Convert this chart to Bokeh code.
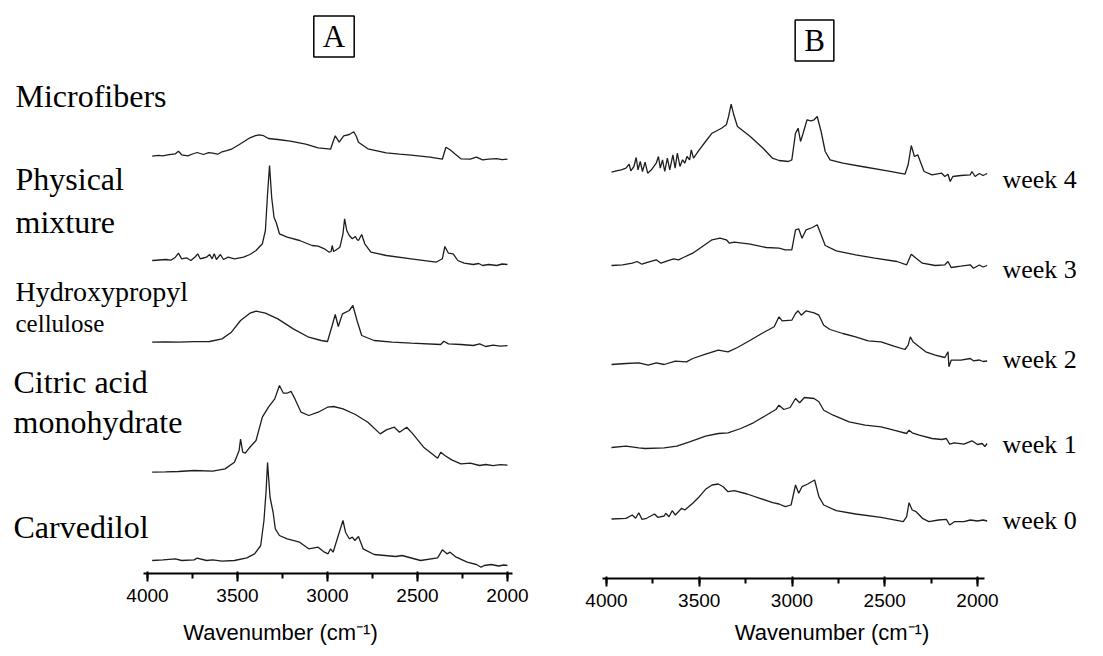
from bokeh.plotting import figure
from bokeh.models import Range1d, Label, SingleIntervalTicker
from bokeh.layouts import row
from bokeh.embed import file_html
from bokeh.resources import INLINE

# ---------------- data (wavenumber cm-1, relative intensity) ----------------
microfibers = [(3974, 0), (3940, 0.8), (3914, 0.3), (3880, 1.5), (3845, 2.4), (3828, 5), (3810, 1.4),
               (3776, 0.4), (3750, 2.2), (3724, 3.7), (3690, 1.7), (3660, 3.5), (3638, 3), (3610, 2),
               (3586, 4.4), (3560, 5.5), (3534, 7), (3483, 12.4), (3431, 18.4), (3400, 20.5), (3379, 21.4),
               (3355, 20.5), (3328, 17.7), (3276, 16.7), (3207, 15), (3121, 12), (3052, 8.4), (2983, 7),
               (2970, 14), (2957, 20.4), (2935, 14), (2910, 20.4), (2879, 21.7), (2854, 24.4), (2840, 20),
               (2828, 14), (2776, 7.4), (2673, 3.4), (2600, 2), (2535, 1), (2431, -1), (2362, -3), (2342, 9),
               (2319, 6.4), (2293, 2.4), (2259, -2.6), (2207, -3), (2173, -1), (2138, -3.7), (2104, -3),
               (2060, -2.5), (2030, -3.5), (2000, -3)]
physical_mixture = [(3974, 0), (3935, 0.5), (3897, 1), (3870, 0.3), (3845, 3.3), (3828, 7.3), (3810, 1.7),
                    (3784, 2.7), (3759, 0), (3733, 4), (3721, 6.7), (3707, 1.7), (3690, 2.5), (3672, 3.3),
                    (3655, 6), (3641, 1.7), (3629, 6.7), (3617, 1), (3595, 6), (3578, 1), (3552, 3.3),
                    (3517, 1.7), (3466, 3.3), (3431, 6), (3397, 10), (3362, 16.7), (3345, 30), (3333, 66.7),
                    (3322, 95), (3310, 63), (3297, 43), (3285, 38), (3267, 26.7), (3224, 23.3), (3155, 20),
                    (3086, 15), (3052, 14.3), (3017, 11.7), (2991, 8.3), (2980, 9), (2974, 15), (2966, 9),
                    (2957, 10), (2931, 13.3), (2914, 26.7), (2905, 41.7), (2893, 30), (2879, 25), (2862, 21.7),
                    (2845, 24), (2836, 21), (2828, 20), (2810, 26), (2793, 16.7), (2759, 8.3), (2673, 5),
                    (2535, 1.7), (2397, -1.7), (2362, 1.7), (2348, 14), (2328, 7.3), (2302, 6.7), (2276, 0),
                    (2241, -2.7), (2190, -4), (2160, -3), (2138, -5), (2104, -4), (2060, -5), (2030, -3.5),
                    (2000, -4)]
hpc = [(3974, 0), (3900, 0.3), (3828, 0), (3740, 0.5), (3655, 0.7), (3586, 3.3), (3534, 10), (3483, 21.7),
       (3431, 29), (3397, 31), (3345, 29), (3276, 23.3), (3190, 13.3), (3104, 5), (3035, 1.7), (3000, 0.7),
       (2974, 16.7), (2957, 27.7), (2940, 15.7), (2917, 28.3), (2879, 31.7), (2859, 36.7), (2836, 21.7),
       (2810, 6.7), (2741, 1.7), (2640, 0), (2535, -1), (2371, -2.3), (2354, 1), (2328, -1.7), (2259, -2.3),
       (2190, -3.3), (2155, -1.7), (2121, -4.3), (2080, -3), (2040, -4), (2000, -3.5)]
citric_acid = [(3974, 0), (3900, 0.3), (3828, 0.7), (3741, 1.7), (3638, 1), (3569, 3.3), (3517, 10),
               (3491, 21.7), (3483, 33), (3471, 20), (3457, 19), (3431, 25), (3397, 31.7), (3362, 55),
               (3328, 65), (3293, 73.3), (3267, 86.7), (3245, 79), (3224, 79), (3203, 81), (3181, 73.3),
               (3147, 60), (3104, 56.7), (3052, 60), (3000, 65), (2966, 65.7), (2914, 63.3), (2845, 57.7),
               (2776, 50), (2707, 38.3), (2673, 42.3), (2629, 45), (2600, 40), (2560, 45), (2526, 38.3),
               (2466, 25), (2388, 14), (2371, 20), (2348, 16.7), (2310, 12.3), (2259, 8.3), (2207, 9),
               (2155, 6.7), (2121, 7.7), (2080, 6.5), (2040, 7.5), (2000, 7)]
carvedilol = [(3974, 0), (3914, 0.7), (3845, 1.7), (3810, 0), (3741, 0.7), (3724, 2.3), (3672, 0),
              (3638, 0.7), (3586, -0.7), (3517, 0), (3448, 2.7), (3405, 6.7), (3371, 15), (3353, 40),
              (3341, 70), (3333, 98), (3326, 80), (3319, 63), (3302, 48), (3290, 31.7), (3267, 25),
              (3224, 21.7), (3155, 18.3), (3104, 11.7), (3052, 13.3), (3017, 8.3), (2997, 6.7), (2983, 11.7),
              (2969, 8.3), (2940, 25), (2914, 40), (2900, 28.3), (2879, 21.7), (2862, 23.3), (2848, 20),
              (2828, 24), (2802, 11.7), (2741, 6), (2621, 4), (2586, 5), (2483, 0), (2388, 2.7), (2362, 10.7),
              (2336, 6.7), (2319, 8.3), (2285, 3.3), (2224, -1.7), (2173, -4), (2147, -6.7), (2129, -5),
              (2090, -4), (2050, -5.5), (2020, -4.5), (2000, -5)]

week4 = [(3973, -0.7), (3947, 0.7), (3921, 1.7), (3895, 3.3), (3878, 7.3), (3869, 0.7), (3852, 5), (3840, 14),
         (3830, 1.7), (3818, 10), (3806, 0), (3792, 9.3), (3778, -1.7), (3758, 1.7), (3732, 8.3), (3720, 15),
         (3710, 3.3), (3698, 11.7), (3686, 0), (3672, 13.3), (3659, 1.7), (3642, 16.7), (3630, 3.3),
         (3618, 18.3), (3604, 5), (3590, 11.7), (3578, 8.3), (3566, 15), (3552, 11.7), (3543, 21.7),
         (3531, 13.3), (3500, 21.7), (3466, 30), (3431, 38.3), (3380, 43.3), (3354, 46.7), (3342, 55),
         (3328, 67.3), (3314, 56.7), (3294, 45), (3225, 35), (3156, 23.3), (3105, 13.3), (3070, 11),
         (3019, 10), (3001, 11.7), (2981, 38.3), (2967, 43.3), (2954, 30), (2940, 38.3), (2919, 51.7),
         (2898, 50.7), (2881, 51.7), (2864, 55), (2843, 40), (2821, 20), (2795, 11.7), (2726, 8.3),
         (2623, 5), (2486, 0.7), (2391, -2.7), (2374, 6.7), (2357, 26), (2340, 15), (2322, 16.7), (2305, 8.3),
         (2288, 0), (2245, -3.3), (2193, -1.7), (2176, -5), (2159, -2.7), (2147, -10), (2133, -5), (2090, -4),
         (2039, -3.3), (2030, 0), (2013, -5), (1990, -2), (1970, -4), (1948, -2)]
week3 = [(3973, 0), (3913, 0.7), (3861, 2.3), (3835, 4), (3809, 1.3), (3775, 3.3), (3732, 5.7), (3706, 2.3),
         (3672, 4.7), (3638, 6.7), (3612, 5.7), (3586, 8), (3535, 12.3), (3483, 19), (3431, 25.7),
         (3388, 27.3), (3354, 25.7), (3337, 22.3), (3311, 23.3), (3225, 21.3), (3139, 18), (3070, 17.3),
         (3036, 15.7), (3001, 15.7), (2981, 35.7), (2964, 36.7), (2946, 27.3), (2924, 35.7), (2890, 38),
         (2864, 40.7), (2843, 30.7), (2821, 20), (2761, 14.7), (2657, 10.7), (2554, 7.3), (2434, 4),
         (2382, 0.7), (2357, 11.3), (2331, 7.3), (2297, 2.3), (2228, 0), (2176, 0.7), (2159, 4), (2142, -2),
         (2090, -0.7), (2039, 0.7), (2022, -2.7), (1990, 0.5), (1970, -1.5), (1948, 0)]
week2 = [(3973, 0), (3895, 1), (3826, 1.7), (3775, -0.7), (3732, 1.7), (3689, 0), (3629, 3.3), (3569, 2.7),
         (3535, 6), (3466, 10.3), (3397, 14.3), (3345, 12.7), (3294, 17), (3225, 24.3), (3156, 31.7),
         (3096, 37.7), (3070, 47.7), (3053, 43.7), (3001, 44.3), (2981, 51), (2967, 53.7), (2950, 49.3),
         (2924, 53.7), (2881, 51.7), (2855, 49.3), (2829, 39.3), (2795, 35), (2726, 31), (2657, 27.7),
         (2589, 23.7), (2520, 22.7), (2451, 18.3), (2391, 15), (2374, 19.3), (2362, 27.7), (2348, 22.7),
         (2314, 17.7), (2279, 12.7), (2228, 9.3), (2176, 7), (2159, 12.7), (2154, -2.3), (2142, 4.3),
         (2090, 4.3), (2039, 6), (2022, 3.7), (1990, 4.5), (1970, 3), (1948, 3.5)]
week1 = [(3973, 0), (3895, 1.3), (3826, -0.3), (3792, -1), (3689, -0.3), (3621, 1.3), (3552, 5.7),
         (3466, 11.3), (3397, 14), (3345, 14.7), (3276, 19), (3208, 24.7), (3139, 32.3), (3087, 38),
         (3070, 42.3), (3044, 38), (3010, 40), (2981, 49), (2959, 44.7), (2933, 50), (2881, 49), (2855, 45.7),
         (2829, 37.3), (2778, 32.3), (2692, 25.7), (2606, 22.3), (2520, 20.7), (2451, 17.3), (2382, 14),
         (2369, 17.3), (2352, 14.7), (2314, 12.3), (2245, 9), (2193, 8), (2168, 9), (2150, 3.3), (2125, 4.7),
         (2073, 3.3), (2030, 6.7), (2000, 3), (1975, 4), (1960, 1), (1948, 4)]
week0 = [(3973, 0), (3895, 0.7), (3861, 4), (3843, 0.7), (3826, 6.3), (3809, -0.3), (3784, 0.7), (3741, 5),
         (3724, 1.7), (3689, 3), (3681, 5.7), (3663, 2.3), (3646, 8.3), (3629, 4), (3595, 10.7), (3578, 9),
         (3535, 15.7), (3500, 22.3), (3466, 29.7), (3431, 34), (3397, 35), (3371, 32.3), (3345, 27.3),
         (3311, 28.3), (3242, 25), (3173, 20.7), (3104, 16.3), (3070, 15), (3036, 12.3), (3005, 14),
         (2981, 34), (2964, 25.7), (2946, 32.3), (2915, 35), (2878, 39), (2855, 22.3), (2829, 14),
         (2761, 8.3), (2657, 5), (2520, 1.7), (2400, -2.7), (2382, 2.3), (2369, 16.3), (2352, 9), (2331, 7.3),
         (2297, 0.7), (2262, -2.7), (2210, -1), (2168, -0.3), (2150, -6), (2125, -2.7), (2073, -2.7),
         (2039, -1), (2000, -2), (1970, -1), (1948, -2)]

panel_a_names = ["Microfibers", "Physical mixture", "Hydroxypropyl cellulose", "Citric acid monohydrate", "Carvedilol"]
panel_a_series = [microfibers, physical_mixture, hpc, citric_acid, carvedilol]
panel_a_offsets = [417.3, 313, 231.3, 101.3, 13]

panel_b_names = ["week 4", "week 3", "week 2", "week 1", "week 0"]
panel_b_series = [week4, week3, week2, week1, week0]
panel_b_offsets = [407, 313, 214, 131, 59.5]

x_ticks_interval = 500
x_label = "Wavenumber (cm\u207b\u00b9)"

SERIF = "Liberation Serif"
SANS = "Liberation Sans"
LINE = "#1e1e1e"


def make_panel(width, frame_h, x_start, x_end, bounds, title_standoff):
    p = figure(frame_width=width, frame_height=frame_h,
               x_range=Range1d(x_start, x_end), y_range=Range1d(0, frame_h),
               output_backend="svg", toolbar_location=None, y_axis_location=None,
               min_border_left=0, min_border_right=0, min_border_top=0,
               min_border_bottom=656 - frame_h)
    p.outline_line_color = None
    p.grid.visible = False
    p.background_fill_color = "white"
    p.border_fill_color = "white"
    ax = p.xaxis[0]
    ax.ticker = SingleIntervalTicker(interval=x_ticks_interval, num_minor_ticks=2)
    ax.bounds = bounds
    ax.axis_line_width = 2
    ax.axis_line_color = "black"
    ax.major_tick_line_width = 2
    ax.major_tick_in = 2
    ax.major_tick_out = 8
    ax.minor_tick_line_width = 2
    ax.minor_tick_in = 0
    ax.minor_tick_out = 5
    ax.major_label_text_font = SANS
    ax.major_label_text_font_size = "19px"
    ax.major_label_text_color = "black"
    ax.major_label_standoff = 7
    ax.axis_label = x_label
    ax.axis_label_text_font = SANS
    ax.axis_label_text_font_style = "normal"
    ax.axis_label_text_font_size = "22px"
    ax.axis_label_text_color = "black"
    ax.axis_label_standoff = title_standoff
    return p


def draw(p, series, offsets):
    for s, off in zip(series, offsets):
        xs = [w for w, _ in s]
        ys = [v + off for _, v in s]
        p.line(xs, ys, line_color=LINE, line_width=1.3)


# ---------------- Panel A ----------------
A_FH = 573
A_S = 2000 / 360.0
A_X0 = 4000 + 147 * A_S
pa = make_panel(560, A_FH, A_X0, 2000 - 53 * A_S, (1972, 4022), 15)
draw(pa, panel_a_series, panel_a_offsets)


def ax_(px):
    return A_X0 - px * A_S


def ay_(py):
    return A_FH - py


A_SHIFT = 11.5  # Label baseline correction (px)
a_texts = [("Microfibers", 15, 107, 32), ("Physical", 15, 190, 32), ("mixture", 15, 233, 32),
           ("Hydroxypropyl", 15, 302, 28), ("cellulose", 15, 334, 25),
           ("Citric acid", 13, 393, 32), ("monohydrate", 13, 433, 32), ("Carvedilol", 13, 538, 32)]
for t, px, py, fs in a_texts:
    pa.add_layout(Label(x=ax_(px), y=ay_(py - A_SHIFT), text=t, text_font=SERIF,
                        text_font_size=f"{fs}px", text_align="left", text_baseline="alphabetic",
                        text_color="black"))
pa.add_layout(Label(x=ax_(333.5), y=ay_(36), text="A", text_font=SERIF, text_font_size="31px",
                    text_align="center", text_baseline="middle", text_color="black",
                    border_line_color="black", border_line_width=1.5,
                    padding=dict(left=9, right=9, top=3, bottom=3)))

# ---------------- Panel B ----------------
B_FH = 578
B_S = 2000 / 371.0
B_X0 = 4000 + 46 * B_S
pb = make_panel(543, B_FH, B_X0, 2000 - 126 * B_S, (1962, 4022), 10)
draw(pb, panel_b_series, panel_b_offsets)


def bx_(px):
    return B_X0 - (px - 560) * B_S


def by_(py):
    return B_FH - py


B_SHIFT = 9.5
b_text_y = [188, 278, 368, 453, 529]
for t, py in zip(panel_b_names, b_text_y):
    pb.add_layout(Label(x=bx_(1002), y=by_(py - B_SHIFT), text=t, text_font=SERIF,
                        text_font_size="26px", text_align="left", text_baseline="alphabetic",
                        text_color="black"))
pb.add_layout(Label(x=bx_(814), y=by_(40), text="B", text_font=SERIF, text_font_size="31px",
                    text_align="center", text_baseline="middle", text_color="black",
                    border_line_color="black", border_line_width=1.5,
                    padding=dict(left=9, right=9, top=3, bottom=3)))

layout = row(pa, pb)
open("out.html", "w").write(file_html(layout, INLINE))
